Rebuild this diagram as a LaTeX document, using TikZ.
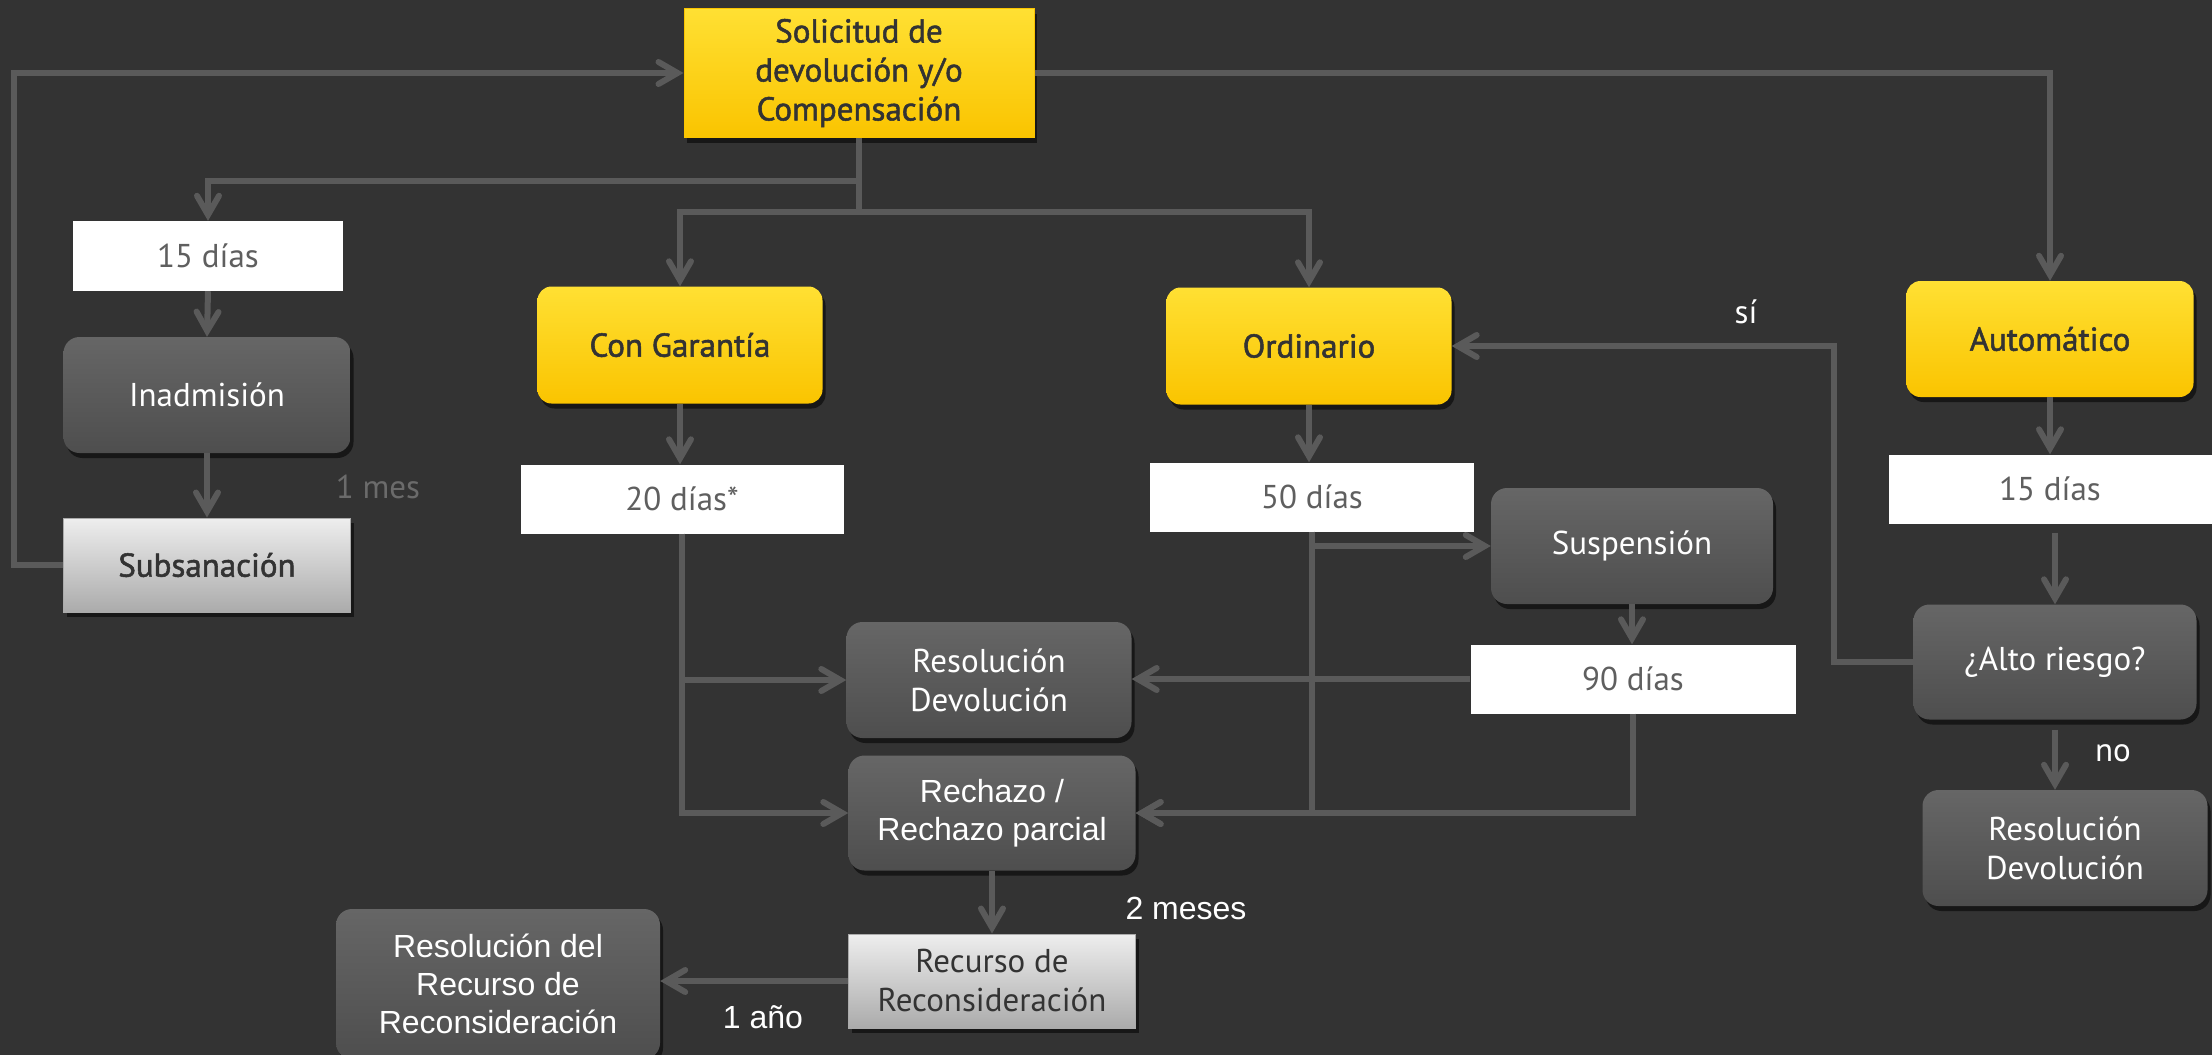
\documentclass[tikz,border=0pt]{standalone}
\usepackage{fontspec}
\setmainfont{PT Sans}
\newfontfamily\arialf{Liberation Sans}
\newfontfamily\eymed{PT Sans}[FakeBold=1.6]
\usetikzlibrary{arrows.meta,shadows}
\definecolor{bg}{HTML}{333333}
\definecolor{lc}{HTML}{5A5A5A}
\definecolor{ytop}{HTML}{FFE033}
\definecolor{ymid}{HTML}{FFCC00}
\definecolor{ybot}{HTML}{FAC400}
\definecolor{ytext}{HTML}{333333}
\definecolor{dtop}{HTML}{666666}
\definecolor{dmid}{HTML}{585858}
\definecolor{dbot}{HTML}{4E4E4E}
\definecolor{ltop}{HTML}{EEEEEE}
\definecolor{lmid}{HTML}{C6C6C6}
\definecolor{lbot}{HTML}{ABABAB}
\definecolor{wtext}{HTML}{5F5F5F}
\definecolor{mesc}{HTML}{6B6B6B}
\tikzset{
  base/.style={inner sep=0pt, align=center},
  shad/.style={drop shadow={shadow xshift=3pt, shadow yshift=-5pt, opacity=0.55, fill=black}},
  ybox/.style={base, shad, rounded corners=14pt, top color=ytop, middle color=ymid, bottom color=ybot,
     text=ytext, font=\eymed\fontsize{33}{39}\selectfont},
  ysq/.style={base, shad, top color=ytop, middle color=ymid, bottom color=ybot, draw=ybot, line width=1pt,
     text=ytext, font=\eymed\fontsize{33}{39}\selectfont},
  dbox/.style={base, shad, rounded corners=16pt, top color=dtop, middle color=dmid, bottom color=dbot,
     text=white, font=\fontsize{33}{39}\selectfont},
  dboxa/.style={dbox, font=\arialf\fontsize{32}{38}\selectfont},
  lbox/.style={base, shad, top color=ltop, middle color=lmid, bottom color=lbot, draw=lbot, line width=1pt,
     text=ytext, font=\fontsize{33}{39}\selectfont},
  wbox/.style={base, fill=white, text=wtext, font=\fontsize{33}{39}\selectfont},
  lbl/.style={inner sep=0pt, text=white, font=\fontsize{33}{39}\selectfont},
  lbla/.style={inner sep=0pt, text=white, font=\arialf\fontsize{32}{38}\selectfont},
  arr/.style={draw=lc, line width=6pt, -{Straight Barb[length=19pt,width=22pt,line cap=round]}},
}
\begin{document}
\begin{tikzpicture}[x=1pt,y=-1pt]
\fill[bg] (0,0) rectangle (2212,1055);
\useasboundingbox (0,0) rectangle (2212,1055);

% nodes
\node[ysq, minimum width=350, minimum height=129] (sol) at (859,73) {Solicitud de\\devolución y/o\\Compensación};
\node[wbox, minimum width=270, minimum height=70] (d15a) at (208,256) {15 días};
\node[dbox, minimum width=287, minimum height=116] (inad) at (207,395) {Inadmisión};
\node[lbox, minimum width=287, minimum height=94, font=\eymed\fontsize{33}{39}\selectfont] (subs) at (207,565) {Subsanación};
\node[inner sep=0pt, text=mesc, font=\fontsize{33}{39}\selectfont] (mes1) at (378,487) {1 mes};

\node[ybox, minimum width=285, minimum height=117] (cg) at (680,345) {Con Garantía};
\node[wbox, minimum width=323, minimum height=69] (d20) at (682,499) {20 días*};

\node[ybox, minimum width=285, minimum height=117] (ord) at (1309,346) {Ordinario};
\node[wbox, minimum width=324, minimum height=69] (d50) at (1312,497) {50 días};
\node[dbox, minimum width=282, minimum height=116] (susp) at (1632,546) {Suspensión};
\node[wbox, minimum width=325, minimum height=69] (d90) at (1633,679) {90 días};

\node[dbox, minimum width=285, minimum height=116] (resdev) at (989,680) {Resolución\\Devolución};
\node[dboxa, minimum width=287, minimum height=115] (rech) at (992,813) {Rechazo /\\Rechazo parcial};
\node[lbox, minimum width=287, minimum height=94] (recur) at (992,981) {Recurso de\\Reconsideración};
\node[dboxa, minimum width=324, minimum height=150] (resrec) at (498,984) {Resolución del\\Recurso de\\Reconsideración};
\node[lbla] (meses2) at (1186,908) {2 meses};
\node[lbla] (ano1) at (763,1017) {1 año};

\node[ybox, minimum width=287, minimum height=116] (auto) at (2050,339) {Automático};
\node[wbox, minimum width=323, minimum height=69] (d15b) at (2050,489) {15 días};
\node[dbox, minimum width=283, minimum height=115] (alto) at (2055,662) {¿Alto riesgo?};
\node[dbox, minimum width=285, minimum height=116] (resdev2) at (2065,848) {Resolución\\Devolución};
\node[lbl] (si) at (1746,312) {sí};
\node[lbl] (no) at (2113,753) {no};

% helper coordinates
\coordinate (lft) at (14,0);
\coordinate (sp1) at (0,181);
\coordinate (sp2) at (0,212);
\coordinate (rt) at (1834,0);

% connectors
\draw[arr] (subs.west) -- (subs.west -| lft) |- (sol.west);
\draw[arr] (sol.east) -| (auto.north);
\draw[arr] (sol.south) -- (sol.south |- sp1) -| (d15a.north);
\draw[arr] (sol.south) -- (sol.south |- sp2) -| (cg.north);
\draw[arr] (sol.south |- sp2) -| (ord.north);
\draw[arr] (d15a.south) -- (inad.north);
\draw[arr] (inad.south) -- (subs.north);
\draw[arr] (cg.south) -- (cg.south |- d20.north);
\draw[arr] (d20.south) |- (resdev.west);
\draw[arr] (d20.south) |- (rech.west);
\draw[arr] (ord.south) -- (ord.south |- d50.north);
\draw[arr] (d50.south) |- (susp.west);
\draw[arr] (d50.south) |- (rech.east);
\draw[arr] (susp.south) -- (susp.south |- d90.north);
\draw[arr] (d90.west) -- (d90.west -| resdev.east);
\draw[arr] (d90.south) |- (rech.east);
\draw[arr] (rech.south) -- (rech.south |- recur.north);
\draw[arr] (recur.west) -- (recur.west -| resrec.east);
\draw[arr] (auto.south) -- (auto.south |- d15b.north);
\draw[arr, shorten <=9pt] (d15b.south -| alto.north) -- (alto.north);
\draw[arr] (alto.west) -- (alto.west -| rt) |- (ord.east);
\draw[arr, shorten <=10pt] (alto.south) -- (alto.south |- resdev2.north);
\end{tikzpicture}
\end{document}
